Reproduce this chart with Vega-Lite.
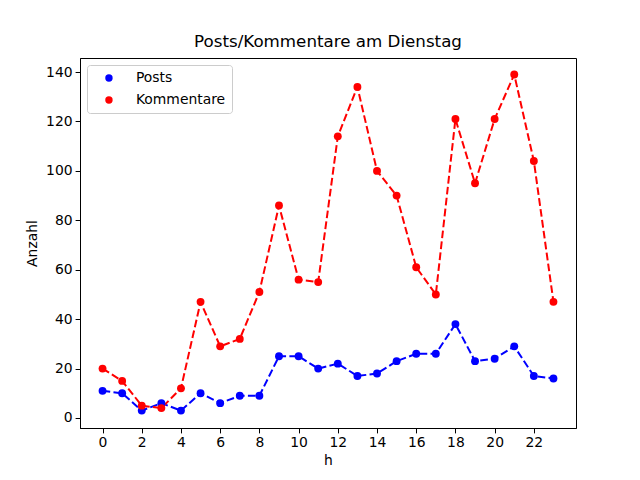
{
  "$schema": "https://vega.github.io/schema/vega-lite/v6.json",
  "width": 496,
  "height": 370,
  "autosize": "none",
  "padding": {"left": 80, "top": 58, "right": 64, "bottom": 52},
  "background": "white",
  "title": {"text": "Posts/Kommentare am Dienstag", "font": "DejaVu Sans", "fontSize": 16.7, "fontWeight": "normal", "color": "black", "offset": 7},
  "data": {"values": [
    {"h": 0, "serie": "Posts", "anzahl": 11}, {"h": 1, "serie": "Posts", "anzahl": 10},
    {"h": 2, "serie": "Posts", "anzahl": 3}, {"h": 3, "serie": "Posts", "anzahl": 6},
    {"h": 4, "serie": "Posts", "anzahl": 3}, {"h": 5, "serie": "Posts", "anzahl": 10},
    {"h": 6, "serie": "Posts", "anzahl": 6}, {"h": 7, "serie": "Posts", "anzahl": 9},
    {"h": 8, "serie": "Posts", "anzahl": 9}, {"h": 9, "serie": "Posts", "anzahl": 25},
    {"h": 10, "serie": "Posts", "anzahl": 25}, {"h": 11, "serie": "Posts", "anzahl": 20},
    {"h": 12, "serie": "Posts", "anzahl": 22}, {"h": 13, "serie": "Posts", "anzahl": 17},
    {"h": 14, "serie": "Posts", "anzahl": 18}, {"h": 15, "serie": "Posts", "anzahl": 23},
    {"h": 16, "serie": "Posts", "anzahl": 26}, {"h": 17, "serie": "Posts", "anzahl": 26},
    {"h": 18, "serie": "Posts", "anzahl": 38}, {"h": 19, "serie": "Posts", "anzahl": 23},
    {"h": 20, "serie": "Posts", "anzahl": 24}, {"h": 21, "serie": "Posts", "anzahl": 29},
    {"h": 22, "serie": "Posts", "anzahl": 17}, {"h": 23, "serie": "Posts", "anzahl": 16},
    {"h": 0, "serie": "Kommentare", "anzahl": 20}, {"h": 1, "serie": "Kommentare", "anzahl": 15},
    {"h": 2, "serie": "Kommentare", "anzahl": 5}, {"h": 3, "serie": "Kommentare", "anzahl": 4},
    {"h": 4, "serie": "Kommentare", "anzahl": 12}, {"h": 5, "serie": "Kommentare", "anzahl": 47},
    {"h": 6, "serie": "Kommentare", "anzahl": 29}, {"h": 7, "serie": "Kommentare", "anzahl": 32},
    {"h": 8, "serie": "Kommentare", "anzahl": 51}, {"h": 9, "serie": "Kommentare", "anzahl": 86},
    {"h": 10, "serie": "Kommentare", "anzahl": 56}, {"h": 11, "serie": "Kommentare", "anzahl": 55},
    {"h": 12, "serie": "Kommentare", "anzahl": 114}, {"h": 13, "serie": "Kommentare", "anzahl": 134},
    {"h": 14, "serie": "Kommentare", "anzahl": 100}, {"h": 15, "serie": "Kommentare", "anzahl": 90},
    {"h": 16, "serie": "Kommentare", "anzahl": 61}, {"h": 17, "serie": "Kommentare", "anzahl": 50},
    {"h": 18, "serie": "Kommentare", "anzahl": 121}, {"h": 19, "serie": "Kommentare", "anzahl": 95},
    {"h": 20, "serie": "Kommentare", "anzahl": 121}, {"h": 21, "serie": "Kommentare", "anzahl": 139},
    {"h": 22, "serie": "Kommentare", "anzahl": 104}, {"h": 23, "serie": "Kommentare", "anzahl": 47}
  ]},
  "encoding": {
    "x": {
      "field": "h", "type": "quantitative", "title": "h",
      "scale": {"domain": [-1.15, 24.15], "nice": false, "zero": false},
      "axis": {"values": [0, 2, 4, 6, 8, 10, 12, 14, 16, 18, 20, 22]}
    },
    "y": {
      "field": "anzahl", "type": "quantitative", "title": "Anzahl",
      "scale": {"domain": [-4.05, 145.7], "nice": false, "zero": false},
      "axis": {"values": [0, 20, 40, 60, 80, 100, 120, 140]}
    },
    "color": {
      "field": "serie", "type": "nominal", "title": null,
      "scale": {"domain": ["Posts", "Kommentare"], "range": ["#0000ff", "#ff0000"]},
      "legend": {"symbolType": "circle", "symbolFillColor": null}
    }
  },
  "layer": [
    {
      "mark": {"type": "line", "strokeDash": [7.7, 3.3], "strokeWidth": 2}
    },
    {
      "mark": {"type": "point", "shape": "circle", "filled": true, "size": 62, "opacity": 1}
    }
  ],
  "config": {
    "view": {"stroke": "black", "strokeWidth": 1},
    "font": "DejaVu Sans",
    "axis": {
      "grid": false, "domainColor": "black", "tickColor": "black", "tickSize": 4.9,
      "labelFont": "DejaVu Sans", "labelFontSize": 13.9, "labelColor": "black",
      "titleFont": "DejaVu Sans", "titleFontSize": 13.9, "titleFontWeight": "normal", "titleColor": "black",
      "labelPadding": 3
    },
    "axisX": {"titlePadding": 4},
    "axisY": {"titlePadding": 6},
    "legend": {
      "orient": "none", "legendX": 7, "legendY": 7,
      "strokeColor": "#cccccc", "fillColor": "white", "padding": 6, "cornerRadius": 3,
      "symbolType": "circle", "symbolSize": 55, "symbolStrokeWidth": 0, "symbolOffset": 9,
      "labelFont": "DejaVu Sans", "labelFontSize": 13.9, "labelColor": "black",
      "rowPadding": 7, "labelOffset": 20
    }
  }
}
